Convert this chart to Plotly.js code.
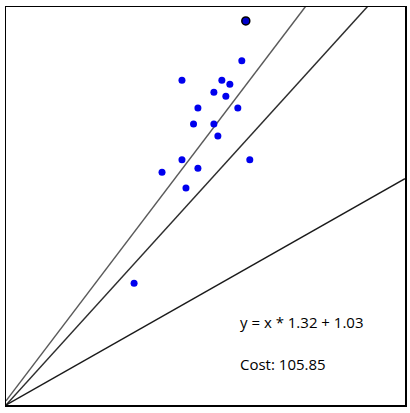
<!DOCTYPE html>
<html>
<head>
<meta charset="utf-8">
<script src="https://cdn.plot.ly/plotly-3.0.1.min.js"></script>
<style>html,body{margin:0;padding:0;background:#fff;}#chart{width:410px;height:413px;}</style>
</head>
<body>
<div id="chart"></div>
<script>
// Data points (x, y)
const pointsX = [59.1, 44.1, 54.1, 56.1, 52.1, 55.1, 48.1, 58.1, 47.0, 52.1, 53.1, 44.1, 61.1, 39.1, 48.1, 45.1, 32.1];
const pointsY = [86.5, 81.6, 81.6, 80.6, 78.6, 77.6, 74.6, 74.6, 70.6, 70.6, 67.6, 61.6, 61.6, 58.5, 59.5, 54.5, 30.6];
// Highlighted point
const highlightX = [60.1];
const highlightY = [96.5];
// Fitted lines (slope, intercept) across iterations
const lineSlopes = [1.32, 1.105, 0.569];
const lineIntercepts = [1.03, 0, 0];
const lineColors = ['#5a5a5a', '#2e2e2e', '#1a1a1a'];
// Annotation texts
const equationText = 'y = x * 1.32 + 1.03';
const costText = 'Cost: 105.85';

const xMin = 0, xMax = 100;
const traces = [];
lineSlopes.forEach((m, i) => {
  const b = lineIntercepts[i];
  traces.push({
    x: [xMin, xMax],
    y: [m * xMin + b, m * xMax + b],
    mode: 'lines',
    line: {color: lineColors[i], width: 1.5},
    hoverinfo: 'skip'
  });
});
traces.push({
  x: pointsX, y: pointsY, mode: 'markers',
  marker: {color: '#0000ee', size: 7}
});
traces.push({
  x: highlightX, y: highlightY, mode: 'markers',
  marker: {color: '#0000cc', size: 8, line: {color: '#000000', width: 1.5}}
});

const layout = {
  width: 410, height: 413,
  margin: {l: 6, r: 5, t: 7, b: 8, pad: 0},
  paper_bgcolor: '#ffffff', plot_bgcolor: '#ffffff',
  showlegend: false,
  xaxis: {range: [xMin, xMax], showgrid: false, zeroline: false, showticklabels: false, ticks: '',
          showline: true, mirror: true, linecolor: '#000000', linewidth: 1.5},
  yaxis: {range: [0, 100], showgrid: false, zeroline: false, showticklabels: false, ticks: '',
          showline: true, mirror: true, linecolor: '#000000', linewidth: 1.5},
  annotations: [
    {x: 58.1, y: 20.9, xref: 'x', yref: 'y', text: equationText, showarrow: false, xanchor: 'left', yanchor: 'middle',
     font: {family: 'Open Sans, Noto Sans, sans-serif', size: 15, color: '#000000'}},
    {x: 58.1, y: 10.3, xref: 'x', yref: 'y', text: costText, showarrow: false, xanchor: 'left', yanchor: 'middle',
     font: {family: 'Open Sans, Noto Sans, sans-serif', size: 15, color: '#000000'}}
  ]
};
Plotly.newPlot('chart', traces, layout, {displayModeBar: false, staticPlot: true});
</script>
</body>
</html>
